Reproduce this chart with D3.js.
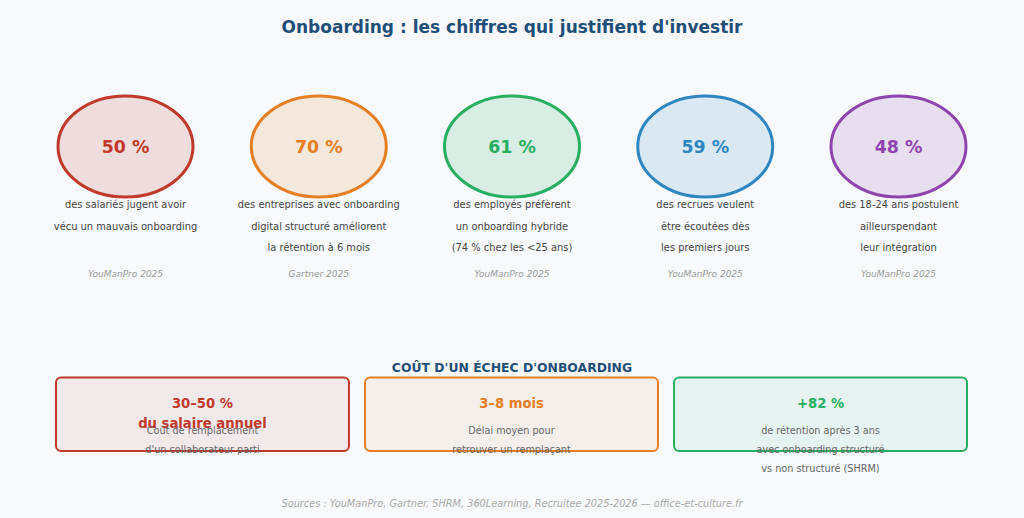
<!DOCTYPE html>
<html>
<head>
<meta charset="utf-8">
<script src="https://cdn.jsdelivr.net/npm/d3@7"></script>
<style>
  body { margin: 0; background: #f7f9fc; }
  text { font-family: "DejaVu Sans", sans-serif; }
</style>
</head>
<body>
<div id="chart"></div>
<script>
// data -------------------------------------------------
var statValues = [50, 70, 61, 59, 48];
var statLines = [
  ["des salariés jugent avoir", "vécu un mauvais onboarding"],
  ["des entreprises avec onboarding", "digital structuré améliorent", "la rétention à 6 mois"],
  ["des employés préfèrent", "un onboarding hybride", "(74 % chez les <25 ans)"],
  ["des recrues veulent", "être écoutées dès", "les premiers jours"],
  ["des 18-24 ans postulent", "ailleurspendant", "leur intégration"]
];
var statSources = ["YouManPro 2025", "Gartner 2025", "YouManPro 2025", "YouManPro 2025", "YouManPro 2025"];
var statColors = ["#c0392b", "#e67e22", "#27ae60", "#2e86c1", "#8e44ad"];

var costValues = [["30–50 %", "du salaire annuel"], ["3–8 mois"], ["+82 %"]];
var costLines = [
  ["Coût de remplacement", "d'un collaborateur parti"],
  ["Délai moyen pour", "retrouver un remplaçant"],
  ["de rétention après 3 ans", "avec onboarding structuré", "vs non structuré (SHRM)"]
];
var costColors = ["#c0392b", "#e67e22", "#27ae60"];

// svg --------------------------------------------------
var w = 1024, h = 518;
var svg = d3.select("#chart").append("svg")
  .attr("width", w).attr("height", h);

svg.append("rect").attr("width", w).attr("height", h).attr("fill", "#f7f9fc");

svg.append("text")
  .attr("x", 512).attr("y", 27)
  .attr("text-anchor", "middle").attr("dominant-baseline", "central")
  .attr("font-size", 17).attr("font-weight", "bold").attr("fill", "#1f4e79")
  .text("Onboarding : les chiffres qui justifient d'investir");

// stat circles
var x = d3.scalePoint().domain(d3.range(statValues.length)).range([125.5, 898.5]);

var g = svg.selectAll("g.stat").data(statValues).enter()
  .append("g").attr("class", "stat")
  .attr("transform", function(d, i){ return "translate(" + x(i) + ",0)"; });

g.append("ellipse")
  .attr("cx", 0).attr("cy", 146.5).attr("rx", 67.5).attr("ry", 50.5)
  .attr("fill", function(d, i){ return statColors[i]; }).attr("fill-opacity", 0.15)
  .attr("stroke", function(d, i){ return statColors[i]; }).attr("stroke-width", 3);

g.append("text")
  .attr("y", 146.5).attr("text-anchor", "middle").attr("dominant-baseline", "central")
  .attr("font-size", 17.4).attr("font-weight", "bold")
  .attr("fill", function(d, i){ return statColors[i]; })
  .text(function(d){ return d + " %"; });

g.each(function(d, i){
  var sel = d3.select(this);
  statLines[i].forEach(function(line, j){
    sel.append("text")
      .attr("y", 204.5 + j * 21.5).attr("text-anchor", "middle").attr("dominant-baseline", "central")
      .attr("font-size", 9.9).attr("fill", "#444")
      .text(line);
  });
  sel.append("text")
    .attr("y", 273.5).attr("text-anchor", "middle").attr("dominant-baseline", "central")
    .attr("font-size", 9).attr("font-style", "italic").attr("fill", "#999")
    .text(statSources[i]);
});

// cost boxes
svg.append("text")
  .attr("x", 512).attr("y", 367.5)
  .attr("text-anchor", "middle").attr("dominant-baseline", "central")
  .attr("font-size", 12.4).attr("font-weight", "bold").attr("fill", "#1f4e79")
  .text("COÛT D'UN ÉCHEC D'ONBOARDING");

var xb = d3.scaleBand().domain(d3.range(costValues.length)).range([56, 967]).paddingInner(0.052);

var b = svg.selectAll("g.cost").data(costValues).enter()
  .append("g").attr("class", "cost")
  .attr("transform", function(d, i){ return "translate(" + xb(i) + ",0)"; });

b.append("rect")
  .attr("x", 0).attr("y", 377.5).attr("width", xb.bandwidth()).attr("height", 73.5)
  .attr("rx", 5)
  .attr("fill", function(d, i){ return costColors[i]; }).attr("fill-opacity", 0.08)
  .attr("stroke", function(d, i){ return costColors[i]; }).attr("stroke-width", 2);

b.each(function(d, i){
  var sel = d3.select(this), cx = xb.bandwidth() / 2;
  d.forEach(function(line, j){
    sel.append("text")
      .attr("x", cx).attr("y", 403 + j * 20).attr("text-anchor", "middle").attr("dominant-baseline", "central")
      .attr("font-size", 13.2).attr("font-weight", "bold").attr("fill", costColors[i])
      .text(line);
  });
  costLines[i].forEach(function(line, j){
    sel.append("text")
      .attr("x", cx).attr("y", 430 + j * 19).attr("text-anchor", "middle").attr("dominant-baseline", "central")
      .attr("font-size", 9.7).attr("fill", "#666")
      .text(line);
  });
});

svg.append("text")
  .attr("x", 512).attr("y", 503.5)
  .attr("text-anchor", "middle").attr("dominant-baseline", "central")
  .attr("font-size", 9.75).attr("font-style", "italic").attr("fill", "#aaa")
  .text("Sources : YouManPro, Gartner, SHRM, 360Learning, Recruitee 2025-2026 — office-et-culture.fr");
</script>
</body>
</html>
